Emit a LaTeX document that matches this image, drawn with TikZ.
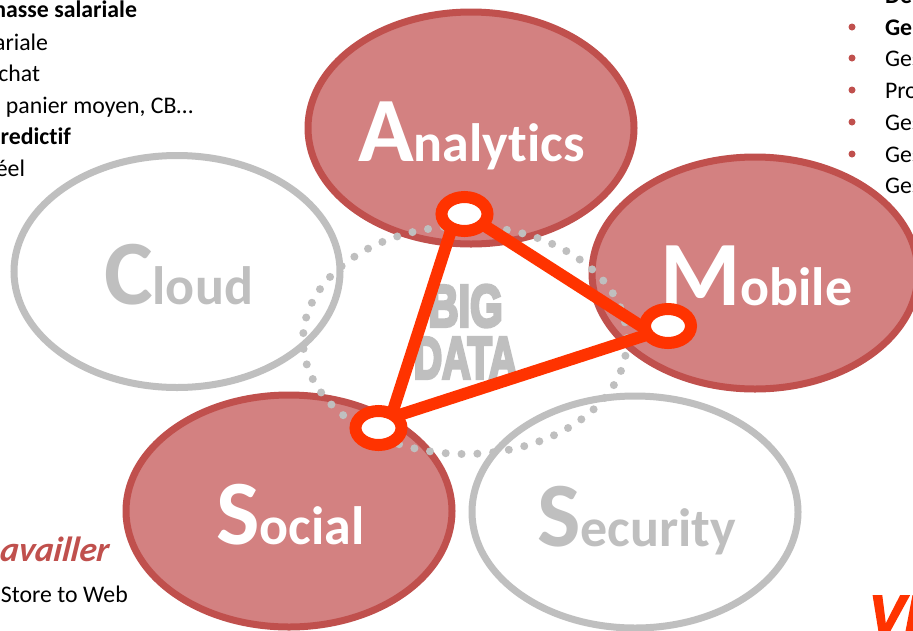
\documentclass[tikz,border=0pt]{standalone}
\usepackage{fontspec}
\setmainfont[Ligatures={NoCommon,NoRequired,NoContextual},BoldItalicFeatures={FakeSlant=0.12}]{Carlito}
\newfontfamily\heavyfont[BoldFeatures={FakeBold=6}]{Liberation Sans}
\newfontfamily\logofont[BoldItalicFeatures={FakeBold=3}]{Liberation Sans}
\usetikzlibrary{shapes.geometric}
\definecolor{redline}{HTML}{C0504D}
\definecolor{redfill}{HTML}{D38181}
\definecolor{soft}{HTML}{BFBFBF}
\definecolor{hot}{HTML}{FF3300}
\tikzset{
  bubble/.style={ellipse,draw,line width=7pt,minimum width=326pt,minimum height=232pt,inner sep=0pt,outer sep=0pt},
  onb/.style={bubble,draw=redline,fill=redfill},
  offb/.style={bubble,draw=soft,fill=white},
  ring/.style={ellipse,draw=hot,fill=white,line width=12pt,minimum width=46pt,minimum height=34pt,inner sep=0pt,outer sep=0pt},
  link/.style={draw=hot,line width=12pt},
  txt/.style={inner sep=0pt,outer sep=0pt,text=black,font=\fontsize{23.8}{23.8}\selectfont,anchor=base west},
  txtb/.style={txt,font=\bfseries\fontsize{23.8}{23.8}\selectfont},
  txtr/.style={txt,anchor=base east},
  txtbr/.style={txtb,anchor=base east},
  dot/.style={circle,fill=redline,inner sep=0pt,minimum size=7pt},
  word/.style={inner sep=0pt,outer sep=0pt,anchor=base west,font=\bfseries\fontsize{54}{54}\selectfont},
  big/.style={inner sep=0pt,outer sep=0pt,text=soft},
}
\newcommand{\capl}[2]{{\fontsize{92}{92}\selectfont #1}#2}
\begin{document}
\begin{tikzpicture}[x=1pt,y=-1pt]
\useasboundingbox (0,0) rectangle (913,630);
\clip (0,0) rectangle (913,630);
\fill[white] (0,0) rectangle (913,630);
% side text
\node[txtbr] (l1) at (137,17) {masse salariale};
\node[txtr] (l2) at (48,50) {ariale};
\node[txtr] (l3) at (40,81) {chat};
\node[txtr] (l4) at (193,113) {panier moyen, CB…};
\node[txtbr] (l5) at (71,144) {redictif};
\node[txtr] (l6) at (25,176) {éel};
\node[txtr,text=redline,font=\bfseries\itshape\fontsize{35}{35}\selectfont] (l7) at (108,561) {availler};
\node[txt] (l8) at (1,602) {Store to Web};
\node[dot] (d1) at (852,27) {};
\node[dot] (d2) at (852,58) {};
\node[dot] (d3) at (852,90) {};
\node[dot] (d4) at (852,122) {};
\node[dot] (d5) at (852,154) {};
\node[dot] (d6) at (852,185) {};
\node[txtb] (r0) at (885,3) {De};
\node[txtb] (r1) at (885,35) {Ge};
\node[txt] (r2) at (885,66) {Ges};
\node[txt] (r3) at (885,98) {Pro};
\node[txt] (r4) at (885,130) {Ges};
\node[txt] (r5) at (885,162) {Ges};
\node[inner sep=0pt,outer sep=0pt,anchor=base west,text=hot,font=\logofont\bfseries\itshape\fontsize{54}{54}\selectfont] (logo) at (869,633) {VI};
% bubbles
\node[offb] (cloud) at (177,271.5) {};
\node[offb] (security) at (635,512) {};
\node[onb] (analytics) at (471,128) {};
\node[onb] (mobile) at (755,273) {};
\node[onb] (social) at (289,511) {};
\node[txt] (r6) at (885,193) {Ges};
% dotted circle
\draw[soft,line width=8pt,line cap=round,dash pattern=on 0pt off 15.85pt] (465,340) ellipse [x radius=162,y radius=114];
% centre words
\node[big] (bigw) at (465.5,306) {\scalebox{0.72}[1.02]{\heavyfont\bfseries\fontsize{58}{58}\selectfont BIG}};
\node[big] (dataw) at (465.5,358) {\scalebox{0.68}[1.02]{\heavyfont\bfseries\fontsize{58}{58}\selectfont DATA}};
% labels
\node[word,text=white] (wa) at (358,161) {\capl{A}{nalytics}};
\node[word,text=soft] (wc) at (104,304) {\capl{C}{loud}};
\node[word,text=white] (wm) at (660,305) {\capl{M}{obile}};
\node[word,text=white] (ws) at (216,544) {\capl{S}{ocial}};
\node[word,text=soft] (wy) at (537,546) {\capl{S}{ecurity}};
% triangle
\node[ring] (ta) at (464.5,214) {};
\node[ring] (tm) at (668,326) {};
\node[ring] (ts) at (378.5,428) {};
\draw[link] (ta.330) -- (tm.187);
\draw[link] (tm.203) -- (ts.35);
\draw[link] (ts.46) -- (ta.228);
\end{tikzpicture}
\end{document}
